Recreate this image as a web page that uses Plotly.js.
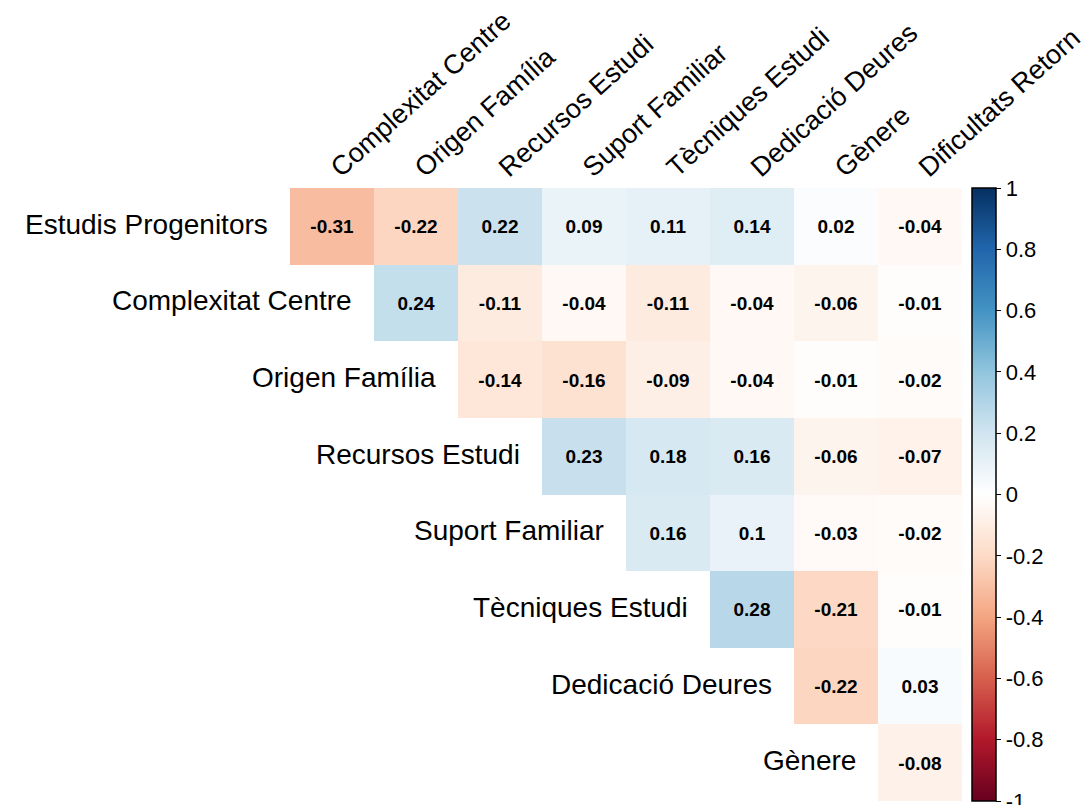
<!DOCTYPE html>
<html>
<head>
<meta charset="utf-8">
<script src="https://cdn.plot.ly/plotly-3.0.1.min.js"></script>
<style>html,body{margin:0;padding:0;background:#fff}#chart{width:1086px;height:805px}</style>
</head>
<body>
<div id="chart"></div>
<script>
// Row variables (top to bottom) and column variables (left to right)
const rowLabels = ["Estudis Progenitors", "Complexitat Centre", "Origen Família", "Recursos Estudi",
  "Suport Familiar", "Tècniques Estudi", "Dedicació Deures", "Gènere"];
const colLabels = ["Complexitat Centre", "Origen Família", "Recursos Estudi", "Suport Familiar",
  "Tècniques Estudi", "Dedicació Deures", "Gènere", "Dificultats Retorn"];

// Upper-triangle correlations, one array per row (starting at the diagonal column)
const estudisProgenitors = [-0.31, -0.22, 0.22, 0.09, 0.11, 0.14, 0.02, -0.04];
const complexitatCentre  = [0.24, -0.11, -0.04, -0.11, -0.04, -0.06, -0.01];
const origenFamilia      = [-0.14, -0.16, -0.09, -0.04, -0.01, -0.02];
const recursosEstudi     = [0.23, 0.18, 0.16, -0.06, -0.07];
const suportFamiliar     = [0.16, 0.1, -0.03, -0.02];
const tecniquesEstudi    = [0.28, -0.21, -0.01];
const dedicacioDeures    = [-0.22, 0.03];
const genere             = [-0.08];

const colorbarTicks = [1, 0.8, 0.6, 0.4, 0.2, 0, -0.2, -0.4, -0.6, -0.8, -1];

const rows = [estudisProgenitors, complexitatCentre, origenFamilia, recursosEstudi,
  suportFamiliar, tecniquesEstudi, dedicacioDeures, genere];

const n = colLabels.length;
const z = [], text = [];
rows.forEach((vals, i) => {
  const zr = [], tr = [];
  for (let j = 0; j < n; j++) {
    if (j < i) { zr.push(null); tr.push(""); }
    else { const v = vals[j - i]; zr.push(v); tr.push(String(v)); }
  }
  z.push(zr); text.push(tr);
});

const rdbu = ["#67001F", "#B2182B", "#D6604D", "#F4A582", "#FDDBC7", "#FFFFFF",
  "#D1E5F0", "#92C5DE", "#4393C3", "#2166AC", "#053061"];
const colorscale = rdbu.map((c, k) => [k / (rdbu.length - 1), c]);

const FONT = "Liberation Sans, Arial, Helvetica, sans-serif";

const trace = {
  type: "heatmap",
  x: colLabels.map((_, j) => j),
  y: rowLabels.map((_, i) => i),
  z: z,
  text: text,
  texttemplate: "<b>%{text}</b>",
  textfont: {family: FONT, size: 19, color: "#000"},
  colorscale: colorscale,
  zmin: -1, zmax: 1,
  hoverongaps: false,
  xgap: 0, ygap: 0,
  colorbar: {
    x: 1.015, xanchor: "left", xref: "paper",
    y: 0.5, yanchor: "middle", len: 1.0, lenmode: "fraction",
    thickness: 24, thicknessmode: "pixels",
    outlinecolor: "#000", outlinewidth: 1.5,
    tickvals: colorbarTicks,
    ticktext: colorbarTicks.map(v => String(v)),
    ticks: "outside", ticklen: 5, tickcolor: "#000",
    ticklabeloverflow: "allow",
    tickfont: {family: FONT, size: 22, color: "#000"},
    xpad: 0, ypad: 0
  }
};

const annotations = rowLabels.map((lab, i) => ({
  x: i - 0.5, y: i, xref: "x", yref: "y",
  text: lab, showarrow: false,
  xanchor: "right", yanchor: "middle", xshift: -20, yshift: 2,
  font: {family: FONT, size: 28, color: "#000"}
}));

const layout = {
  width: 1086, height: 805,
  margin: {l: 290, r: 124, t: 188, b: 4},
  paper_bgcolor: "#fff", plot_bgcolor: "#fff",
  font: {family: FONT},
  xaxis: {
    side: "top", tickmode: "array",
    tickvals: colLabels.map((_, j) => j), ticktext: colLabels,
    tickangle: -42, ticks: "", showgrid: false, zeroline: false,
    showline: false, range: [-0.5, n - 0.5],
    tickfont: {family: FONT, size: 27, color: "#000"}
  },
  yaxis: {
    autorange: false, range: [rowLabels.length - 0.5, -0.5],
    showticklabels: false, ticks: "", showgrid: false, zeroline: false, showline: false
  },
  annotations: annotations,
  showlegend: false
};

Plotly.newPlot("chart", [trace], layout, {displayModeBar: false, staticPlot: true});
</script>
</body>
</html>
